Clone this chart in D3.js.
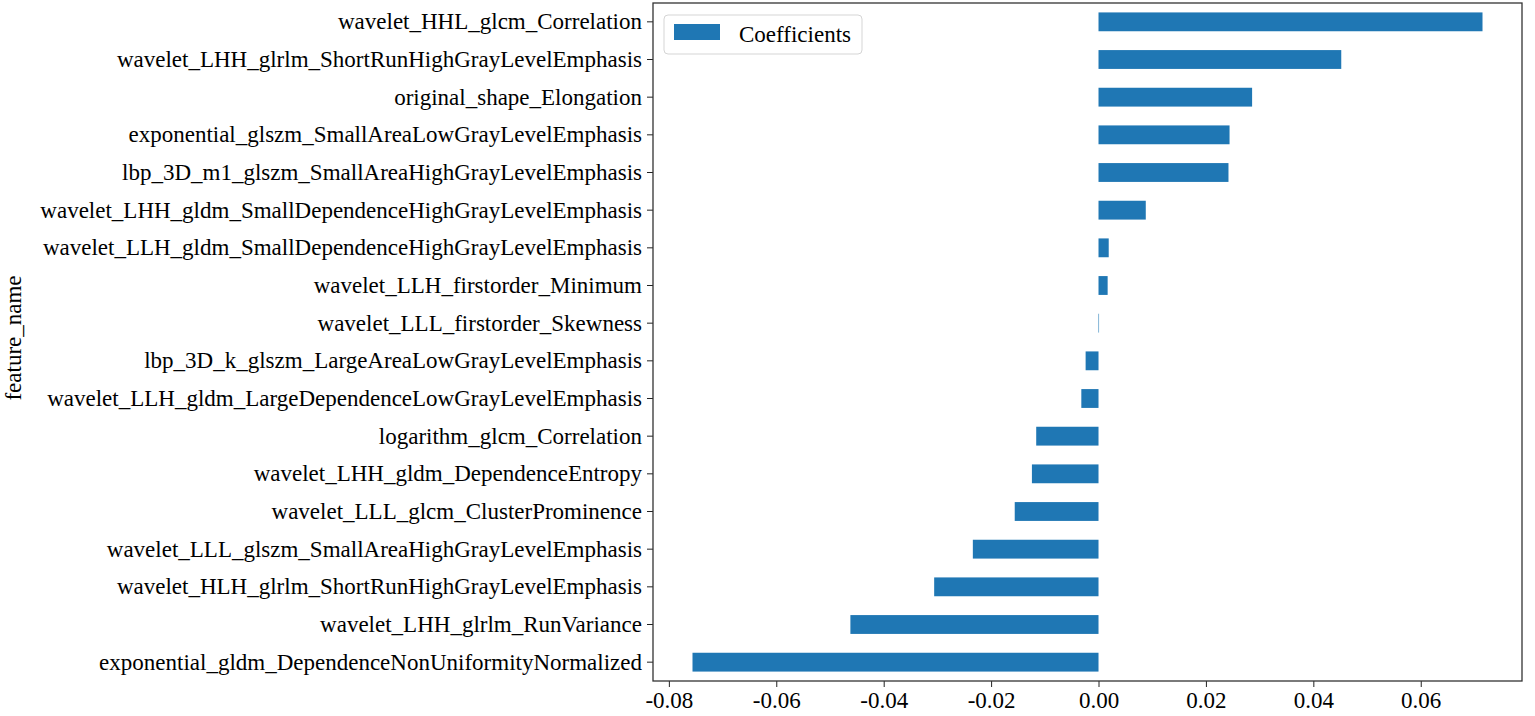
<!DOCTYPE html>
<html>
<head>
<meta charset="utf-8">
<script src="https://cdn.jsdelivr.net/npm/d3@7"></script>
<style>
	body { margin: 0; background: #fff; }
	svg text { font-family: "Liberation Serif", "Times New Roman", serif; fill: #000; }
</style>
</head>
<body>
<div id="chart"></div>
<script>
// data, top to bottom
var features = [
	"wavelet_HHL_glcm_Correlation",
	"wavelet_LHH_glrlm_ShortRunHighGrayLevelEmphasis",
	"original_shape_Elongation",
	"exponential_glszm_SmallAreaLowGrayLevelEmphasis",
	"lbp_3D_m1_glszm_SmallAreaHighGrayLevelEmphasis",
	"wavelet_LHH_gldm_SmallDependenceHighGrayLevelEmphasis",
	"wavelet_LLH_gldm_SmallDependenceHighGrayLevelEmphasis",
	"wavelet_LLH_firstorder_Minimum",
	"wavelet_LLL_firstorder_Skewness",
	"lbp_3D_k_glszm_LargeAreaLowGrayLevelEmphasis",
	"wavelet_LLH_gldm_LargeDependenceLowGrayLevelEmphasis",
	"logarithm_glcm_Correlation",
	"wavelet_LHH_gldm_DependenceEntropy",
	"wavelet_LLL_glcm_ClusterProminence",
	"wavelet_LLL_glszm_SmallAreaHighGrayLevelEmphasis",
	"wavelet_HLH_glrlm_ShortRunHighGrayLevelEmphasis",
	"wavelet_LHH_glrlm_RunVariance",
	"exponential_gldm_DependenceNonUniformityNormalized"
];
var coefficients = [
	0.0715, 0.0452, 0.0286, 0.0244, 0.0242, 0.0088, 0.0019, 0.0017, 0.0001,
	-0.0024, -0.0032, -0.0116, -0.0124, -0.0156, -0.0234, -0.0306, -0.0462, -0.0756
];
var xTicks = [-0.08, -0.06, -0.04, -0.02, 0.00, 0.02, 0.04, 0.06];

var width = 1535, height = 716;
var m = { left: 653, right: 13, top: 3, bottom: 35 };
var iw = width - m.left - m.right;
var ih = height - m.top - m.bottom;

var svg = d3.select("#chart").append("svg")
	.attr("width", width)
	.attr("height", height);

var g = svg.append("g")
	.attr("transform", "translate(" + m.left + "," + m.top + ")");

// matplotlib style 5% margins
var lo = d3.min(coefficients), hi = d3.max(coefficients);
var pad = (hi - lo) * 0.05;
var x = d3.scaleLinear().domain([lo - pad, hi + pad]).range([0, iw]);
var y = d3.scaleBand().domain(features).range([0, ih]).paddingInner(0.5).paddingOuter(0.25);

// bars
g.selectAll(".bar")
	.data(coefficients)
	.enter().append("rect")
	.attr("class", "bar")
	.attr("x", function(d) { return x(Math.min(0, d)); })
	.attr("width", function(d) { return Math.abs(x(d) - x(0)); })
	.attr("y", function(d, i) { return y(features[i]); })
	.attr("height", y.bandwidth())
	.attr("fill", "#1f77b4");

// axes (plain hyphen for negatives, like matplotlib with Times)
var fmt = function(d) { return d3.format(".2f")(d).replace("\u2212", "-"); };
var xAxis = g.append("g")
	.attr("transform", "translate(0," + ih + ")")
	.call(d3.axisBottom(x).tickValues(xTicks).tickFormat(fmt).tickSize(6).tickSizeOuter(0));
xAxis.selectAll("text").attr("font-size", 23).attr("dy", "0.8em");

var yAxis = g.append("g")
	.call(d3.axisLeft(y).tickSize(6).tickSizeOuter(0));
yAxis.selectAll("text").attr("font-size", 23).attr("dx", "-2");

g.selectAll(".domain").remove();
g.selectAll(".tick line").attr("stroke", "#222");

// frame
g.append("rect")
	.attr("width", iw)
	.attr("height", ih)
	.attr("fill", "none")
	.attr("stroke", "#333")
	.attr("stroke-width", 1.3);

// y title
svg.append("text")
	.attr("transform", "translate(21,338) rotate(-90)")
	.attr("text-anchor", "middle")
	.attr("font-size", 23)
	.text("feature_name");

// legend
var legend = g.append("g").attr("transform", "translate(11,12)");
legend.append("rect")
	.attr("width", 198)
	.attr("height", 39)
	.attr("rx", 4)
	.attr("fill", "#fff")
	.attr("stroke", "#d5d5d5");
legend.append("rect")
	.attr("x", 10)
	.attr("y", 9)
	.attr("width", 46)
	.attr("height", 16)
	.attr("fill", "#1f77b4");
legend.append("text")
	.attr("x", 75)
	.attr("y", 27)
	.attr("font-size", 23)
	.text("Coefficients");
</script>
</body>
</html>
